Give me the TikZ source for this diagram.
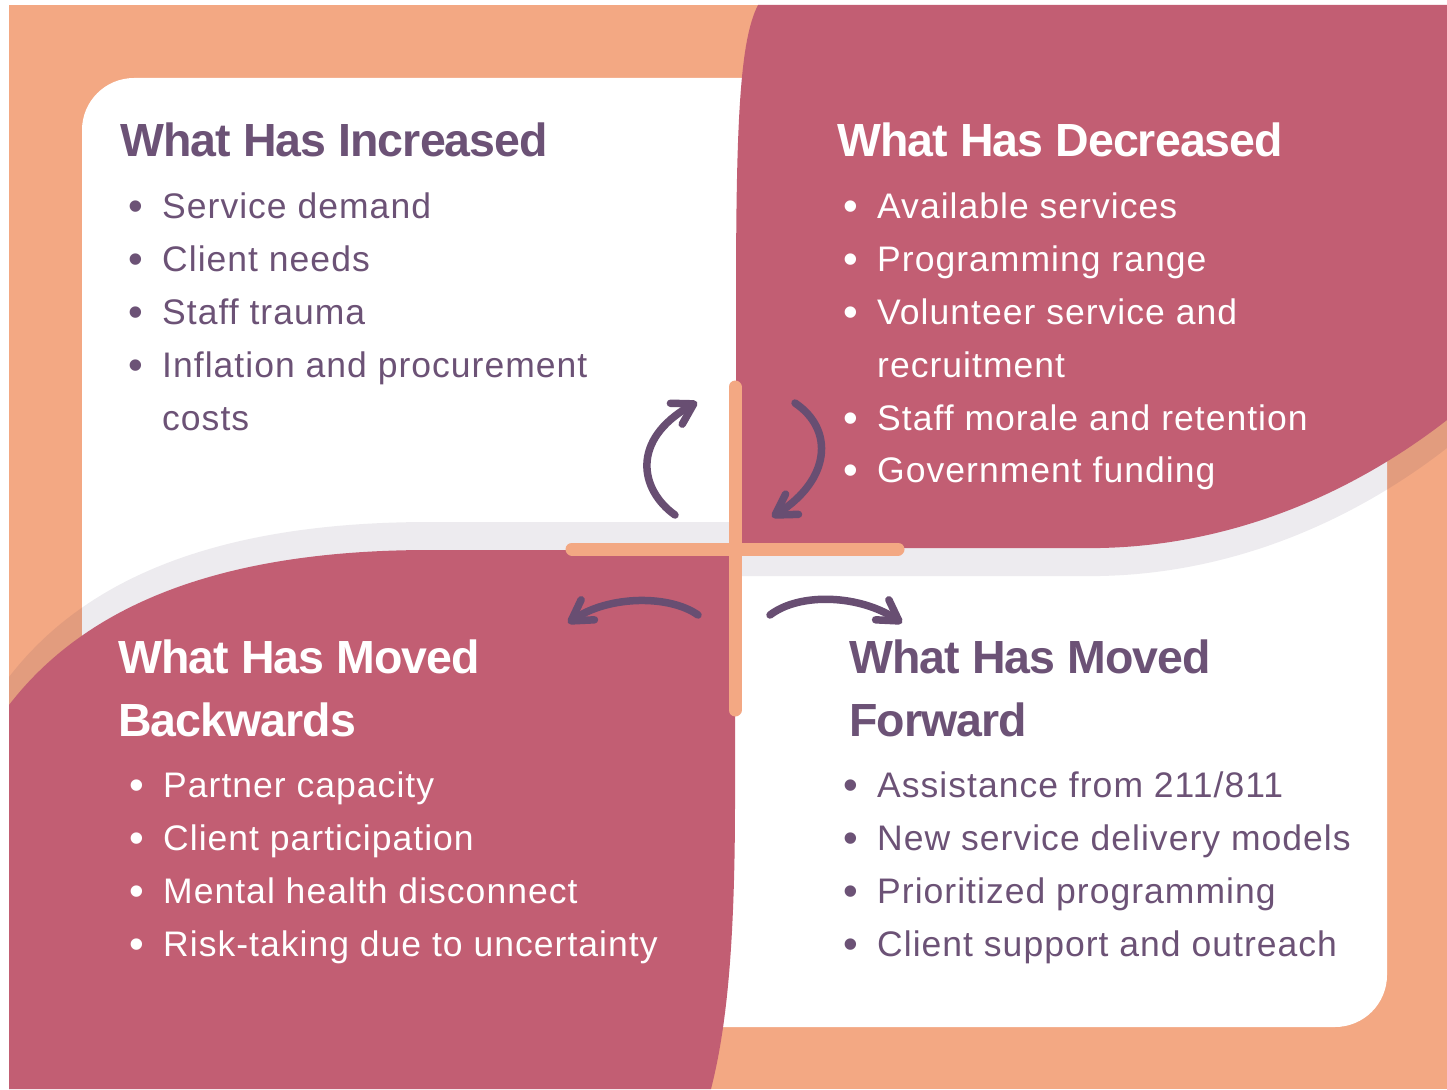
\documentclass[tikz,border=0pt]{standalone}
\usepackage{fontspec}
\usetikzlibrary{positioning, arrows.meta}

\newfontfamily\ttlfam{Liberation Sans}[LetterSpace=-2.0]
\newfontfamily\itmfam{Liberation Sans}[LetterSpace=2.9]
\newcommand{\ttlfont}{\ttlfam\bfseries\fontsize{46.5pt}{52pt}\selectfont}
\newcommand{\itmfont}{\itmfam\fontsize{35.5pt}{40pt}\selectfont}
\newcommand{\bulfont}{\itmfam\fontsize{42pt}{44pt}\selectfont}

\definecolor{orng}{RGB}{243,168,131}
\definecolor{pnk}{RGB}{194,94,115}
\definecolor{purp}{RGB}{108,82,118}
\definecolor{arrc}{RGB}{104,78,114}
\definecolor{shdc}{RGB}{60,40,80}

\begin{document}
\begin{tikzpicture}[x=1pt, y=-1pt,
    ttl/.style={font=\ttlfont, inner sep=0pt, text height=34pt, text depth=9pt, anchor=base west},
    itm/.style={font=\itmfont, inner sep=0pt, text height=26pt, text depth=9pt},
    bul/.style={font=\bulfont, inner sep=0pt, yshift=-2pt},
    arr/.style={draw=arrc, line width=7.5pt, line cap=round, -{Straight Barb[length=20pt, width=24pt, round]}},
    bar/.style={draw=orng, line width=13pt, line cap=round},
    shd/.style={fill=shdc, opacity=0.09}]
\useasboundingbox (0,0) rectangle (1447,1089);
\fill[white] (0,0) rectangle (1447,1089);
\fill[orng] (9,5) rectangle (1447,1089);
\fill[white, rounded corners=52pt] (82,78) rectangle (1387,1027);

% shadows
\fill[shd] (760,300) -- (1447,300) -- (1447,448) .. controls (1370,508) and (1250,573) .. (1100,576) -- (736,576) -- (736,300) -- cycle;
\fill[shd] (9,677) .. controls (90,572) and (230,522) .. (430,522) -- (735,522) -- (735,560) -- (700,560) -- (700,1089) -- (9,1089) -- cycle;

% pink quarters
\fill[pnk] (758,5) -- (1447,5) -- (1447,420) .. controls (1370,480) and (1250,545) .. (1100,548) -- (736,548) -- (736,300) .. controls (736,120) and (740,40) .. (758,5) -- cycle;
\fill[pnk] (9,705) .. controls (90,600) and (230,550) .. (430,550) -- (735,550) -- (735,800) .. controls (735,950) and (726,1030) .. (711,1089) -- (9,1089) -- cycle;

% cross
\coordinate (vt) at (735,387);
\coordinate (vb) at (735,710);
\coordinate (hl) at (572,549);
\coordinate (hr) at (898,549);
\draw[bar] (vt) -- (vb);
\draw[bar] (hl) -- (hr);

% arrows
\coordinate (a1s) at (675,515);
\coordinate (a1e) at (697,402);
\coordinate (a2s) at (795,403);
\coordinate (a2e) at (772,517);
\coordinate (a3s) at (698,615);
\coordinate (a3e) at (568,623);
\coordinate (a4s) at (770,615);
\coordinate (a4e) at (902,623);
\draw[arr] (a1s) .. controls (640,490) and (630,440) .. (a1e);
\draw[arr] (a2s) .. controls (835,430) and (830,480) .. (a2e);
\draw[arr] (a3s) .. controls (670,595) and (610,595) .. (a3e);
\draw[arr] (a4s) .. controls (800,592) and (860,595) .. (a4e);

% top left
\node[ttl, text=purp] (inc) at (120,157) {What Has Increased};
\node[itm, text=purp] (inc1) [below right=26pt and 42pt of inc.south west] {Service demand};
\node[itm, text=purp] (inc2) [below=17.5pt of inc1.south west, anchor=north west] {Client needs};
\node[itm, text=purp] (inc3) [below=17.5pt of inc2.south west, anchor=north west] {Staff trauma};
\node[itm, text=purp] (inc4) [below=17.5pt of inc3.south west, anchor=north west] {Inflation and procurement};
\node[itm, text=purp] (inc5) [below=17.5pt of inc4.south west, anchor=north west] {costs};
\node[bul, text=purp] (inc1b) [left=19pt of inc1.base west, anchor=base east] {\textbullet};
\node[bul, text=purp] (inc2b) [left=19pt of inc2.base west, anchor=base east] {\textbullet};
\node[bul, text=purp] (inc3b) [left=19pt of inc3.base west, anchor=base east] {\textbullet};
\node[bul, text=purp] (inc4b) [left=19pt of inc4.base west, anchor=base east] {\textbullet};

% top right
\node[ttl, text=white] (dec) at (837,157) {What Has Decreased};
\node[itm, text=white] (dec1) [below right=26pt and 40pt of dec.south west] {Available services};
\node[itm, text=white] (dec2) [below=17.5pt of dec1.south west, anchor=north west] {Programming range};
\node[itm, text=white] (dec3) [below=17.5pt of dec2.south west, anchor=north west] {Volunteer service and};
\node[itm, text=white] (dec4) [below=17.5pt of dec3.south west, anchor=north west] {recruitment};
\node[itm, text=white] (dec5) [below=17.5pt of dec4.south west, anchor=north west] {Staff morale and retention};
\node[itm, text=white] (dec6) [below=17.5pt of dec5.south west, anchor=north west] {Government funding};
\node[bul, text=white] (dec1b) [left=19pt of dec1.base west, anchor=base east] {\textbullet};
\node[bul, text=white] (dec2b) [left=19pt of dec2.base west, anchor=base east] {\textbullet};
\node[bul, text=white] (dec3b) [left=19pt of dec3.base west, anchor=base east] {\textbullet};
\node[bul, text=white] (dec5b) [left=19pt of dec5.base west, anchor=base east] {\textbullet};
\node[bul, text=white] (dec6b) [left=19pt of dec6.base west, anchor=base east] {\textbullet};

% bottom left
\node[ttl, text=white] (bak) at (118,673) {What Has Moved};
\node[ttl, text=white] (bak0) [below=20pt of bak.south west, anchor=north west] {Backwards};
\node[itm, text=white] (bak1) [below right=26pt and 45pt of bak0.south west] {Partner capacity};
\node[itm, text=white] (bak2) [below=17.5pt of bak1.south west, anchor=north west] {Client participation};
\node[itm, text=white] (bak3) [below=17.5pt of bak2.south west, anchor=north west] {Mental health disconnect};
\node[itm, text=white] (bak4) [below=17.5pt of bak3.south west, anchor=north west] {Risk-taking due to uncertainty};
\node[bul, text=white] (bak1b) [left=19pt of bak1.base west, anchor=base east] {\textbullet};
\node[bul, text=white] (bak2b) [left=19pt of bak2.base west, anchor=base east] {\textbullet};
\node[bul, text=white] (bak3b) [left=19pt of bak3.base west, anchor=base east] {\textbullet};
\node[bul, text=white] (bak4b) [left=19pt of bak4.base west, anchor=base east] {\textbullet};

% bottom right
\node[ttl, text=purp] (fwd) at (849,673) {What Has Moved};
\node[ttl, text=purp] (fwd0) [below=20pt of fwd.south west, anchor=north west] {Forward};
\node[itm, text=purp] (fwd1) [below right=26pt and 28pt of fwd0.south west] {Assistance from 211/811};
\node[itm, text=purp] (fwd2) [below=17.5pt of fwd1.south west, anchor=north west] {New service delivery models};
\node[itm, text=purp] (fwd3) [below=17.5pt of fwd2.south west, anchor=north west] {Prioritized programming};
\node[itm, text=purp] (fwd4) [below=17.5pt of fwd3.south west, anchor=north west] {Client support and outreach};
\node[bul, text=purp] (fwd1b) [left=19pt of fwd1.base west, anchor=base east] {\textbullet};
\node[bul, text=purp] (fwd2b) [left=19pt of fwd2.base west, anchor=base east] {\textbullet};
\node[bul, text=purp] (fwd3b) [left=19pt of fwd3.base west, anchor=base east] {\textbullet};
\node[bul, text=purp] (fwd4b) [left=19pt of fwd4.base west, anchor=base east] {\textbullet};
\end{tikzpicture}
\end{document}
